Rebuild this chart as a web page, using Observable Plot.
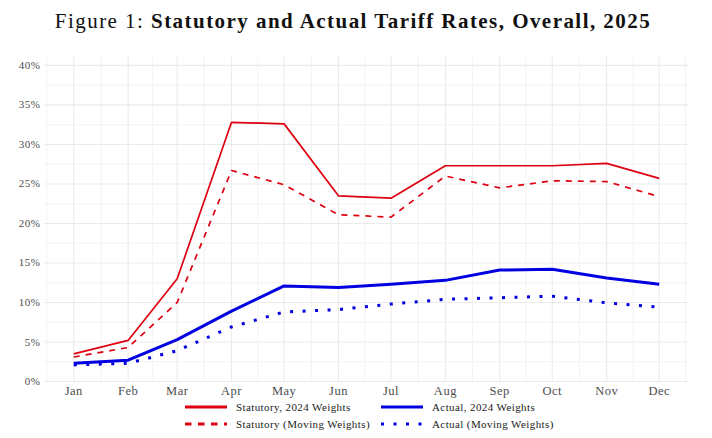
<!DOCTYPE html>
<html><head><meta charset="utf-8">
<script src="https://cdn.jsdelivr.net/npm/d3@7"></script>
<script src="https://cdn.jsdelivr.net/npm/@observablehq/plot@0.6"></script>
<style>
body{margin:0;background:#fff;font-family:"Liberation Serif",serif;width:712px;height:438px;overflow:hidden}
#title{height:50px;text-align:center;font-size:21px;line-height:21px;padding-top:11px;box-sizing:border-box;color:#111;padding-right:6px;letter-spacing:1.45px;white-space:nowrap}
#title b{font-weight:bold}
#legend{position:absolute;left:185px;top:399px;display:grid;grid-template-columns:196px 200px;row-gap:1px;font-size:11px;letter-spacing:0.4px;color:#222}
.item{display:flex;align-items:center;height:16px;white-space:nowrap}
.item svg{margin-right:9px}
</style></head><body>
<div id="title">Figure 1: <b>Statutory and Actual Tariff Rates, Overall, 2025</b></div>
<div id="chart"></div>
<div id="legend"></div>
<script>
const months = ["Jan","Feb","Mar","Apr","May","Jun","Jul","Aug","Sep","Oct","Nov","Dec"];
const statutory2024 = [3.5, 5.2, 13.0, 32.8, 32.6, 23.5, 23.2, 27.3, 27.3, 27.3, 27.6, 25.7];
const statutoryMoving = [3.1, 4.3, 10.0, 26.7, 24.9, 21.1, 20.8, 26.0, 24.5, 25.4, 25.3, 23.4];
const actual2024 = [2.3, 2.7, 5.3, 8.9, 12.1, 11.9, 12.3, 12.8, 14.1, 14.2, 13.1, 12.3];
const actualMoving = [2.1, 2.3, 3.9, 6.9, 8.8, 9.1, 9.8, 10.4, 10.6, 10.8, 9.95, 9.4];
const yTicks = [0, 5, 10, 15, 20, 25, 30, 35, 40];

const seriesDefs = [
  {name:"Statutory, 2024 Weights", values: statutory2024, stroke:"#dd0010", width:1.7, dash:null},
  {name:"Statutory (Moving Weights)", values: statutoryMoving, stroke:"#dd0010", width:1.7, dash:"6,6"},
  {name:"Actual, 2024 Weights", values: actual2024, stroke:"#0000e0", width:3, dash:null},
  {name:"Actual (Moving Weights)", values: actualMoving, stroke:"#0000e0", width:3, dash:"3,9.5"}
];

const dates = months.map((m,i) => new Date(Date.UTC(2025, i, 1)));
const data = seriesDefs.flatMap(s => s.values.map((v,i) => ({series:s.name, date:dates[i], value:v/100})));

const t0 = +dates[0], t1 = +dates[dates.length-1];
const pad = (t1 - t0) * 0.05;
const minorX = [];
const ext = [new Date(Date.UTC(2024,11,1)), ...dates];
for (let i = 0; i < ext.length - 1; i++) minorX.push(new Date((+ext[i] + +ext[i+1]) / 2));
minorX.push(new Date(+dates[11] + (+dates[11] - +dates[10]) / 2));
const minorY = yTicks.slice(0,-1).map(v => (v + 2.5) / 100);

const grid = "#ebebeb";
const marks = [
  Plot.ruleX(minorX, {stroke: grid, strokeWidth: 0.6}),
  Plot.ruleY(minorY, {stroke: grid, strokeWidth: 0.6}),
  Plot.ruleX(dates, {stroke: grid, strokeWidth: 1.1}),
  Plot.ruleY(yTicks.map(v => v/100), {stroke: grid, strokeWidth: 1.1}),
  Plot.axisY(yTicks.map(v => v/100), {tickSize: 0, tickPadding: 4, tickFormat: d => Math.round(d*100) + "%", fontSize: 11, label: null}),
  Plot.axisX(dates, {tickSize: 0, tickPadding: 5, tickFormat: d => months[d.getUTCMonth()], fontSize: 12.5, label: null}),
  ...seriesDefs.map(s => Plot.line(data.filter(d => d.series === s.name), {
    x: "date", y: "value", stroke: s.stroke, strokeWidth: s.width,
    strokeDasharray: s.dash || undefined, strokeLinejoin: "round", strokeLinecap: "butt"
  }))
];

const chart = Plot.plot({
  width: 712, height: 352,
  marginTop: 7, marginBottom: 21, marginLeft: 44, marginRight: 24,
  x: {type: "utc", domain: [new Date(t0 - pad), new Date(t1 + pad)]},
  y: {domain: [0, 0.41]},
  style: {fontFamily: "Liberation Serif, serif", color: "#4d4d4d", background: "#fff", letterSpacing: "0.5px"},
  marks
});
document.getElementById("chart").appendChild(chart);

const legendOrder = [0, 2, 1, 3];
const lg = document.getElementById("legend");
legendOrder.forEach(i => {
  const s = seriesDefs[i];
  const div = document.createElement("div");
  div.className = "item";
  const dash = s.dash ? (s.width > 2 ? "3,9.5" : "6.5,6.5") : "";
  div.innerHTML = `<svg width="42" height="8"><line x1="0" x2="42" y1="4" y2="4" stroke="${s.stroke}" stroke-width="3" ${dash ? `stroke-dasharray="${dash}"` : ""}/></svg><span>${s.name}</span>`;
  lg.appendChild(div);
});
</script>
</body></html>
